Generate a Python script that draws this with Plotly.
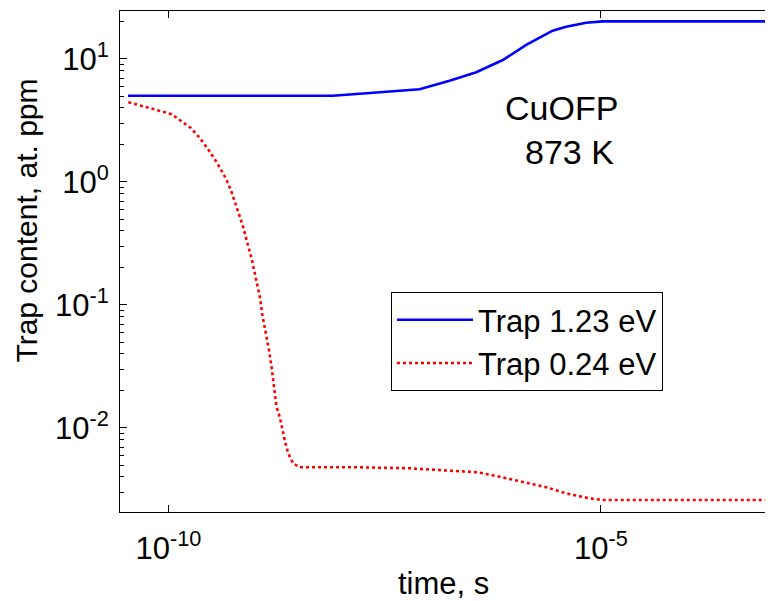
import plotly.graph_objects as go

# ---- data ----
time_123 = [3.40e-11, 7.94e-09, 1.95e-08, 8.02e-08, 1.78e-07, 3.62e-07,
            7.35e-07, 1.37e-06, 2.77e-06, 3.96e-06, 6.75e-06, 1.05e-05, 9.77e-04]
trap_123 = [5.03, 5.03, 5.26, 5.67, 6.66, 7.80, 9.81, 13.0, 17.0, 18.3, 19.7, 20.2, 20.2]

time_024 = [3.44e-11, 4.91e-11, 6.67e-11, 9.12e-11, 1.09e-10, 1.42e-10, 1.80e-10,
            2.27e-10, 2.81e-10, 3.61e-10, 4.61e-10, 5.27e-10, 6.14e-10, 7.19e-10,
            8.13e-10, 9.14e-10, 1.02e-09, 1.14e-09, 1.22e-09, 1.34e-09, 1.46e-09,
            1.57e-09, 1.67e-09, 1.77e-09, 1.94e-09, 2.08e-09, 2.23e-09, 2.42e-09,
            2.76e-09, 3.30e-09, 1.63e-08, 6.14e-08, 2.32e-07, 3.78e-07, 6.73e-07,
            1.37e-06, 2.33e-06, 3.96e-06, 7.36e-06, 1.05e-05, 9.77e-04]
trap_024 = [4.45, 4.17, 3.92, 3.69, 3.55, 3.13, 2.76, 2.31, 1.89, 1.45, 1.07,
            0.861, 0.622, 0.449, 0.3235, 0.2397, 0.1667, 0.1168, 0.0829, 0.0589,
            0.0423, 0.0300, 0.02143, 0.01510, 0.01222, 0.00963, 0.00774, 0.00623,
            0.00516, 0.00479, 0.00479, 0.00470, 0.00447, 0.00436, 0.00402, 0.00362,
            0.00330, 0.00294, 0.00268, 0.00260, 0.00260]

x_tickvals = [1e-10, 1e-5]
x_ticktext = ["10<sup>-10</sup>", "10<sup>-5</sup>"]
y_tickvals = [1e-2, 1e-1, 1e0, 1e1]
y_ticktext = ["10<sup>-2</sup>", "10<sup>-1</sup>", "10<sup>0</sup>", "10<sup>1</sup>"]
y_minor = [m * 10.0 ** k for k in range(-3, 2) for m in range(2, 10)]

FONT = "Liberation Sans, Arial, sans-serif"

fig = go.Figure()
fig.add_trace(go.Scatter(x=time_123, y=trap_123, mode="lines", name="Trap 1.23 eV",
                         line=dict(color="#0000FF", width=2.6)))
fig.add_trace(go.Scatter(x=time_024, y=trap_024, mode="lines", name="Trap 0.24 eV",
                         line=dict(color="#FF0000", width=2.6, dash="3px,3px")))

fig.update_layout(
    width=765, height=593,
    margin=dict(l=112, r=0, t=3, b=89),
    paper_bgcolor="white", plot_bgcolor="white",
    font=dict(family=FONT, color="black"),
    showlegend=True,
    legend=dict(x=0.415, y=0.439, xanchor="left", yanchor="top",
                bgcolor="white", bordercolor="black", borderwidth=1,
                font=dict(size=31, family=FONT), itemwidth=76,
                tracegroupgap=0),
    xaxis=dict(type="log", range=[-10.56, -3.01],
               tickmode="array", tickvals=x_tickvals, ticktext=x_ticktext,
               ticks="inside", ticklen=7, tickcolor="black",
               showline=True, linecolor="black", linewidth=1, mirror="ticks",
               showgrid=False, zeroline=False,
               tickfont=dict(size=31, family=FONT), ticklabelstandoff=9),
    yaxis=dict(type="log", range=[-2.683, 1.39],
               tickmode="array", tickvals=y_tickvals, ticktext=y_ticktext,
               ticks="inside", ticklen=7, tickcolor="black",
               minor=dict(tickmode="array", tickvals=y_minor, ticks="inside",
                          ticklen=4, tickcolor="black", showgrid=False),
               showline=True, linecolor="black", linewidth=1,
               showgrid=False, zeroline=False,
               tickfont=dict(size=31, family=FONT), ticklabelstandoff=4),
    annotations=[
        dict(text="time, s", xref="paper", yref="paper", x=0.496, y=-0.142,
             xanchor="center", yanchor="middle", showarrow=False,
             font=dict(size=31, family=FONT)),
        dict(text="Trap content, at. ppm", xref="paper", yref="paper",
             x=-0.143, y=0.581, xanchor="center", yanchor="middle",
             textangle=-90, showarrow=False, font=dict(size=30, family=FONT)),
        dict(text="CuOFP", xref="paper", yref="paper", x=0.676, y=0.806,
             xanchor="center", yanchor="middle", showarrow=False,
             font=dict(size=34, family=FONT)),
        dict(text="873 K", xref="paper", yref="paper", x=0.688, y=0.718,
             xanchor="center", yanchor="middle", showarrow=False,
             font=dict(size=34, family=FONT)),
    ],
)

fig.write_html("out.html")
